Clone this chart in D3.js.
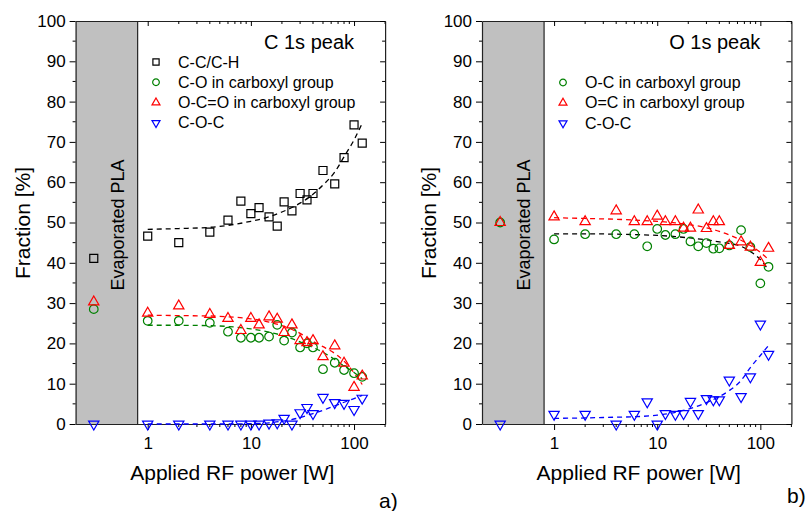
<!DOCTYPE html>
<html>
<head>
<meta charset="utf-8">
<script src="https://cdn.jsdelivr.net/npm/d3@7"></script>
<style>
  body { margin: 0; background: #fff; }
  svg { display: block; font-family: Arial, "Liberation Sans", sans-serif; }
</style>
</head>
<body>
<svg id="chart" width="809" height="511"></svg>
<script>
// ---- DATA ----
const pla = 0.3; // evaporated PLA reference position
const power = [1, 2, 4, 6, 8, 10, 12, 15, 18, 21, 25, 30, 35, 40, 50, 65, 80, 100, 120];
const fitPower = [1, 2, 4, 6, 10, 15, 20, 30, 40, 50, 65, 80, 100, 120];

// C 1s peak
const c_cc = [46.6, 45.0, 47.6, 50.6, 55.3, 52.2, 53.7, 51.4, 49.1, 55.1, 52.9, 57.2, 55.6, 57.2, 62.9, 59.6, 66.1, 74.2, 69.7];
const c_co = [25.6, 25.6, 25.1, 22.9, 21.4, 21.4, 21.4, 21.7, 24.6, 20.7, 22.7, 19.0, 20.0, 19.0, 13.6, 15.2, 13.4, 12.6, 11.7];
const c_oco = [27.5, 29.3, 27.2, 26.2, 23.2, 26.2, 24.6, 26.6, 26.0, 22.7, 24.6, 20.7, 20.2, 20.7, 16.7, 19.4, 15.1, 9.1, 11.9];
const c_coc = [0, 0, 0, 0, 0, 0, 0, 0.2, 0.3, 1.4, 0, 2.8, 4.1, 2.6, 6.6, 5.3, 5.1, 3.6, 6.4];
const c_pla = [41.1, 28.5, 30.3, 0];
const c_fit_cc = [48.3, 48.5, 48.8, 49.3, 50.3, 51.4, 52.6, 54.8, 57.0, 59.3, 62.5, 66.3, 70.5, 74.6];
const c_fit_co = [24.5, 24.5, 24.4, 24.2, 23.6, 22.8, 22.0, 20.4, 19.0, 17.8, 16.0, 14.4, 12.8, 11.2];
const c_fit_oco = [27.0, 26.9, 26.8, 26.6, 26.1, 25.3, 24.4, 22.5, 20.5, 19.2, 17.5, 15.6, 12.7, 9.8];
const c_fit_coc = [0, 0, 0, 0, 0.1, 0.3, 0.7, 1.6, 2.6, 3.4, 4.5, 5.4, 6.3, 7.1];

// O 1s peak
const o_oc = [45.8, 47.1, 47.1, 47.1, 44.1, 48.4, 46.9, 47.1, 48.4, 45.3, 44.1, 44.9, 43.5, 43.6, 44.3, 48.1, 43.9, 34.9, 39.0];
const o_oeq = [51.4, 50.2, 52.9, 50.2, 50.2, 51.6, 50.2, 50.2, 48.6, 48.6, 53.1, 48.5, 50.2, 50.2, 44.3, 45.2, 43.9, 40.1, 43.6];
const o_coc = [2.4, 2.4, 0, 2.4, 5.5, 0, 2.6, 2.4, 2.6, 5.6, 2.6, 6.3, 6.0, 6.0, 10.9, 6.8, 11.7, 24.8, 17.3];
const o_pla = [50.0, 50.0, 0];
const o_fit_oc = [47.2, 47.2, 47.1, 47.0, 46.8, 46.5, 46.2, 45.7, 45.2, 44.8, 44.1, 42.8, 40.8, 38.2];
const o_fit_oeq = [51.2, 51.0, 50.8, 50.6, 50.3, 49.9, 49.5, 48.7, 47.8, 46.9, 45.6, 44.3, 42.6, 40.8];
const o_fit_coc = [1.4, 1.5, 1.7, 1.8, 2.2, 2.9, 3.7, 5.3, 6.8, 8.3, 10.8, 14.0, 17.0, 19.5];

const yTicks = [0, 10, 20, 30, 40, 50, 60, 70, 80, 90, 100];
const xTicks = [1, 10, 100];
const xMinor = [2, 3, 4, 5, 6, 7, 8, 9, 20, 30, 40, 50, 60, 70, 80, 90, 200];

const BLACK = "#000", GREEN = "#008000", RED = "#ff0000", BLUE = "#0000ff";

const svg = d3.select("#chart");

function marker(shape, big) {
  const s = big ? 1 : 0.6;
  if (shape === "square") return d3.symbol(d3.symbolSquare, 64 * s)();
  if (shape === "circle") return d3.symbol(d3.symbolCircle, 58 * s)();
  return d3.symbol(d3.symbolTriangle, 46 * s)();
}

function panel(opt) {
  const x = d3.scaleLog().domain([0.2, 200]).range(opt.xr);
  const y = d3.scaleLinear().domain([0, 100]).range([424, 21]);
  const g = svg.append("g");

  // evaporated PLA region
  g.append("rect")
    .attr("x", x(0.2)).attr("y", y(100))
    .attr("width", x(0.8) - x(0.2)).attr("height", y(0) - y(100))
    .attr("fill", "#c0c0c0");
  g.append("line")
    .attr("x1", x(0.8)).attr("x2", x(0.8)).attr("y1", y(100)).attr("y2", y(0))
    .attr("stroke", "#000").attr("stroke-width", 1);
  g.append("text")
    .attr("transform", "translate(" + (x(0.8) - 14) + "," + 225 + ") rotate(-90)")
    .attr("text-anchor", "middle").attr("font-size", 18).text("Evaporated PLA");

  // axes
  const bottom = g.append("g").attr("transform", "translate(0,424)")
    .call(d3.axisBottom(x).tickValues(xTicks).tickFormat(d3.format("d")).tickSize(6).tickSizeOuter(0));
  bottom.selectAll("text").attr("font-size", 17).attr("dy", "0.95em").attr("fill", "#000");
  bottom.append("g").selectAll("line").data(xMinor).join("line")
    .attr("x1", d => x(d)).attr("x2", d => x(d)).attr("y1", 0).attr("y2", 3).attr("stroke", "#000");

  const top = g.append("g").attr("transform", "translate(0,21)")
    .call(d3.axisBottom(x).tickValues(xTicks).tickFormat("").tickSize(5).tickSizeOuter(0));
  top.append("g").selectAll("line").data(xMinor).join("line")
    .attr("x1", d => x(d)).attr("x2", d => x(d)).attr("y1", 0).attr("y2", 3).attr("stroke", "#000");

  const left = g.append("g").attr("transform", "translate(" + opt.xr[0] + ",0)")
    .call(d3.axisLeft(y).tickValues(yTicks).tickSize(6).tickSizeOuter(0).tickPadding(4));
  left.selectAll("text").attr("font-size", 17).attr("fill", "#000");
  left.append("g").selectAll("line").data(d3.range(5, 100, 10)).join("line")
    .attr("x1", 0).attr("x2", -3).attr("y1", d => y(d)).attr("y2", d => y(d)).attr("stroke", "#000");

  const right = g.append("g").attr("transform", "translate(" + opt.xr[1] + ",0)")
    .call(d3.axisLeft(y).tickValues(yTicks).tickFormat("").tickSize(5).tickSizeOuter(0));
  right.append("g").selectAll("line").data(d3.range(5, 100, 10)).join("line")
    .attr("x1", 0).attr("x2", -3).attr("y1", d => y(d)).attr("y2", d => y(d)).attr("stroke", "#000");

  g.selectAll(".domain").attr("stroke", "#222").attr("stroke-width", 1.2);

  // titles
  g.append("text")
    .attr("transform", "translate(" + opt.yTitleX + ",223) rotate(-90)")
    .attr("text-anchor", "middle").attr("font-size", 21).text("Fraction [%]");
  g.append("text")
    .attr("x", (x(0.2) + x(200)) / 2 + 2).attr("y", 480)
    .attr("text-anchor", "middle").attr("font-size", 21).text("Applied RF power [W]");
  g.append("text")
    .attr("x", x(100)).attr("y", 49).attr("text-anchor", "end")
    .attr("font-size", 20).text(opt.peak);
  g.append("text")
    .attr("x", opt.label[0]).attr("y", opt.label[1])
    .attr("font-size", 21).text(opt.label[2]);

  // fit lines
  const line = d3.line().x((d, i) => x(fitPower[i])).y(d => y(d)).curve(d3.curveMonotoneX);
  opt.fits.forEach(f => {
    g.append("path").datum(f.values)
      .attr("d", line).attr("fill", "none")
      .attr("stroke", f.color).attr("stroke-width", 1.3).attr("stroke-dasharray", "5,4");
  });

  // points
  opt.series.forEach(s => {
    const pts = s.values.map((v, i) => [power[i], v]);
    pts.push([pla, s.pla]);
    g.append("g").selectAll("path").data(pts).join("path")
      .attr("transform", d => "translate(" + x(d[0]) + "," + y(d[1]) + ")" + (s.down ? " rotate(180)" : ""))
      .attr("d", marker(s.shape, true))
      .attr("fill", "none").attr("stroke", s.color).attr("stroke-width", 1.2);
  });

  // legend
  const lg = g.append("g");
  opt.series.forEach((s, i) => {
    const ly = opt.legend[1] + i * 20.3;
    lg.append("path")
      .attr("transform", "translate(" + opt.legend[0] + "," + ly + ")" + (s.down ? " rotate(180)" : ""))
      .attr("d", marker(s.shape, false))
      .attr("fill", "none").attr("stroke", s.color).attr("stroke-width", 1.2);
    lg.append("text")
      .attr("x", opt.legend[0] + 22).attr("y", ly + 5.5)
      .attr("font-size", 16).text(s.name);
  });
}

panel({
  xr: [75.6, 385.1],
  yTitleX: 29.5,
  peak: "C 1s peak",
  label: [379, 508, "a)"],
  legend: [156, 62],
  series: [
    { name: "C-C/C-H", values: c_cc, pla: c_pla[0], color: BLACK, shape: "square" },
    { name: "C-O in carboxyl group", values: c_co, pla: c_pla[1], color: GREEN, shape: "circle" },
    { name: "O-C=O in carboxyl group", values: c_oco, pla: c_pla[2], color: RED, shape: "triangle" },
    { name: "C-O-C", values: c_coc, pla: c_pla[3], color: BLUE, shape: "triangle", down: true }
  ],
  fits: [
    { values: c_fit_cc, color: BLACK },
    { values: c_fit_co, color: GREEN },
    { values: c_fit_oco, color: RED },
    { values: c_fit_coc, color: BLUE }
  ]
});

panel({
  xr: [482, 791.4],
  yTitleX: 436,
  peak: "O 1s peak",
  label: [787, 503, "b)"],
  legend: [563, 82.5],
  series: [
    { name: "O-C in carboxyl group", values: o_oc, pla: o_pla[0], color: GREEN, shape: "circle" },
    { name: "O=C in carboxyl group", values: o_oeq, pla: o_pla[1], color: RED, shape: "triangle" },
    { name: "C-O-C", values: o_coc, pla: o_pla[2], color: BLUE, shape: "triangle", down: true }
  ],
  fits: [
    { values: o_fit_oc, color: BLACK },
    { values: o_fit_oeq, color: RED },
    { values: o_fit_coc, color: BLUE }
  ]
});
</script>
</body>
</html>
